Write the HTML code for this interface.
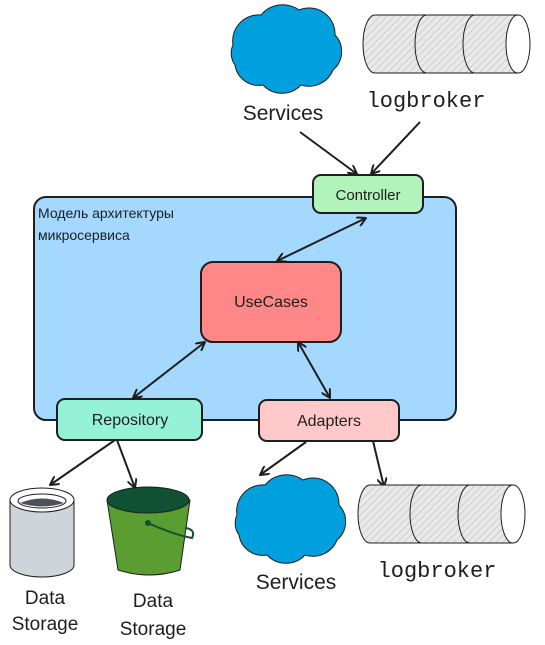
<!DOCTYPE html>
<html><head><meta charset="utf-8"><style>
html,body{margin:0;padding:0;background:#fff;width:545px;height:645px;overflow:hidden}
text{font-family:"Liberation Sans",sans-serif;fill:#1e1e1e}
.m{font-family:"Liberation Mono",monospace}
</style></head><body>
<svg width="545" height="645" viewBox="0 0 545 645" xmlns="http://www.w3.org/2000/svg">
<defs>
<pattern id="h" width="5" height="5" patternUnits="userSpaceOnUse" patternTransform="rotate(45)">
<rect width="5" height="5" fill="#e9e9e9"/><line x1="0" y1="0" x2="0" y2="5" stroke="#bdbdbd" stroke-width="1.2"/></pattern>
<marker id="a" markerWidth="10" markerHeight="10" refX="9" refY="5" orient="auto-start-reverse" markerUnits="userSpaceOnUse">
<path d="M0,0 L9,5 L0,10" fill="none" stroke="#1e1e1e" stroke-width="2"/></marker>
<g id="cloud"><path d="M233,45 a26,26 0 0 1 28,-30 a28,28 0 0 1 38,-5 a26,26 0 0 1 36,25 a24,24 0 0 1 -2,35 a26,26 0 0 1 -32,15 a26,26 0 0 1 -38,0 a24,24 0 0 1 -28,-20 a20,20 0 0 1 -2,-20 z" fill="#009fde" stroke="#1e1e1e" stroke-width="1"/></g>
<g id="log">
<path d="M375,15 L518,15 L518,73 L375,73 A12,29 0 0 1 375,15 Z" fill="url(#h)" stroke="#1e1e1e" stroke-width="1"/>
<path d="M427,15 A12,29 0 0 0 427,73 M475,15 A12,29 0 0 0 475,73" fill="none" stroke="#1e1e1e" stroke-width="1"/>
<ellipse cx="518" cy="44" rx="12" ry="29" fill="#fff" stroke="#1e1e1e" stroke-width="1"/>
</g>
</defs>

<use href="#cloud"/>
<use href="#log"/>
<text x="283" y="120" font-size="21" text-anchor="middle">Services</text>
<text x="426" y="107" font-size="22" text-anchor="middle" class="m">logbroker</text>

<rect x="34" y="197" width="422" height="223" rx="12" fill="#a5d8ff" stroke="#1e1e1e" stroke-width="2"/>
<text x="38" y="218" font-size="14">Модель архитектуры</text>
<text x="38" y="240" font-size="14">микросервиса</text>

<rect x="313" y="175" width="110" height="38" rx="8" fill="#b2f2bb" stroke="#1e1e1e" stroke-width="2"/>
<text x="368" y="200" font-size="15" text-anchor="middle">Controller</text>
<rect x="201" y="262" width="140" height="80" rx="12" fill="#ff8787" stroke="#1e1e1e" stroke-width="2"/>
<text x="271" y="307" font-size="16" text-anchor="middle">UseCases</text>
<rect x="57" y="399" width="145" height="41" rx="8" fill="#96f2d7" stroke="#1e1e1e" stroke-width="2"/>
<text x="130" y="425" font-size="16" text-anchor="middle">Repository</text>
<rect x="259" y="400" width="140" height="41" rx="8" fill="#ffc9c9" stroke="#1e1e1e" stroke-width="2"/>
<text x="329" y="426" font-size="16" text-anchor="middle">Adapters</text>

<g stroke="#1e1e1e" stroke-width="2" fill="none">
<line x1="300" y1="132" x2="357" y2="174" marker-end="url(#a)"/>
<line x1="420" y1="122" x2="371" y2="174" marker-end="url(#a)"/>
<line x1="366" y1="218" x2="277" y2="261" marker-end="url(#a)" marker-start="url(#a)"/>
<line x1="205" y1="342" x2="133" y2="398" marker-end="url(#a)" marker-start="url(#a)"/>
<line x1="298" y1="342" x2="330" y2="398" marker-end="url(#a)" marker-start="url(#a)"/>
<line x1="115" y1="440" x2="50" y2="485" marker-end="url(#a)"/>
<line x1="117" y1="440" x2="135" y2="488" marker-end="url(#a)"/>
<line x1="306" y1="442" x2="260" y2="475" marker-end="url(#a)"/>
<line x1="373" y1="441" x2="384" y2="487" marker-end="url(#a)"/>
</g>

<path d="M10,500 L10,565 A32,12 0 0 0 74,565 L74,500 Z" fill="#ced4da" stroke="#1e1e1e" stroke-width="1"/>
<ellipse cx="42" cy="500" rx="32" ry="12" fill="#fff" stroke="#1e1e1e" stroke-width="1"/>
<ellipse cx="42" cy="501" rx="24" ry="7" fill="#fff" stroke="#1e1e1e" stroke-width="1"/>
<path d="M20,503 Q42,494 64,503 Q42,510 20,503Z" fill="#495057"/>
<path d="M107,500 L118,570 Q150,580 180,570 L190,500 Z" fill="#5a9e32" stroke="#1e1e1e" stroke-width="1"/>
<ellipse cx="148" cy="500" rx="41" ry="13" fill="#0f5132" stroke="#1e1e1e" stroke-width="1"/>
<path d="M148,523 Q175,535 192,538 Q196,530 186,528" fill="none" stroke="#0f5132" stroke-width="2"/>
<circle cx="148" cy="523" r="3" fill="#0f5132"/>
<text x="45" y="604" font-size="19" text-anchor="middle">Data</text>
<text x="45" y="630" font-size="19" text-anchor="middle">Storage</text>
<text x="153" y="607" font-size="19" text-anchor="middle">Data</text>
<text x="153" y="635" font-size="19" text-anchor="middle">Storage</text>

<use href="#cloud" transform="translate(4,470)"/>
<use href="#log" transform="translate(-5,470)"/>
<text x="296" y="589" font-size="21" text-anchor="middle">Services</text>
<text x="437" y="577" font-size="22" text-anchor="middle" class="m">logbroker</text>
</svg>
</body></html>
